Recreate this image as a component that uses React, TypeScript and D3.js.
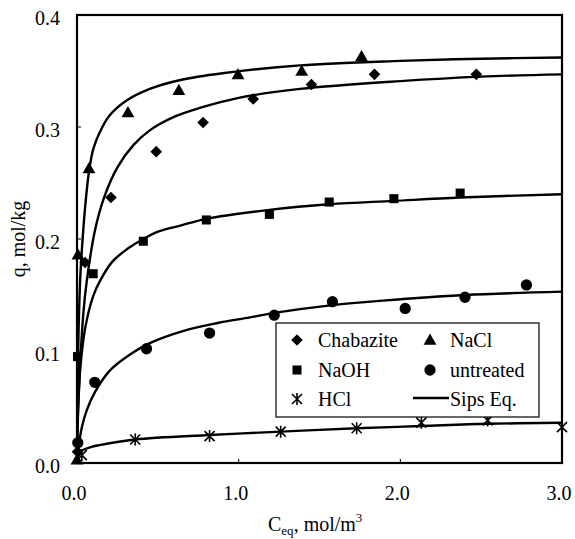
import React from 'react';
import * as d3 from 'd3';

const xTicks = [0, 1, 2, 3];
const yTicks = [0, 0.1, 0.2, 0.3, 0.4];

// Measured points (C_eq, q)
const chabaziteC = [0.003, 0.05, 0.21, 0.49, 0.78, 1.09, 1.45, 1.84, 2.47];
const chabaziteQ = [0.01, 0.179, 0.237, 0.278, 0.304, 0.325, 0.338, 0.347, 0.347];
const naclC = [0.0, 0.006, 0.074, 0.315, 0.63, 0.996, 1.39, 1.76];
const naclQ = [0.002, 0.185, 0.262, 0.312, 0.332, 0.346, 0.349, 0.362];
const naohC = [0.003, 0.1, 0.41, 0.8, 1.19, 1.56, 1.96, 2.37];
const naohQ = [0.095, 0.169, 0.198, 0.217, 0.222, 0.233, 0.236, 0.241];
const untreatedC = [0.005, 0.11, 0.43, 0.82, 1.22, 1.58, 2.03, 2.4, 2.78];
const untreatedQ = [0.018, 0.072, 0.102, 0.116, 0.132, 0.144, 0.138, 0.148, 0.159];
const hclC = [0.03, 0.36, 0.82, 1.26, 1.73, 2.13, 2.54, 3.0];
const hclQ = [0.007, 0.021, 0.024, 0.028, 0.031, 0.036, 0.038, 0.032];

// Sips Eq. fitted curves
const fitNaclC = [0, 0.002, 0.005, 0.01, 0.02, 0.03, 0.05, 0.074, 0.1, 0.14, 0.2, 0.3, 0.45, 0.64, 0.9, 1.38, 2.0, 2.5, 3.0];
const fitNaclQ = [0, 0.044, 0.08, 0.12, 0.165, 0.19, 0.228, 0.26, 0.28, 0.295, 0.31, 0.323, 0.334, 0.342, 0.348, 0.355, 0.359, 0.361, 0.362];
const fitChabC = [0, 0.002, 0.005, 0.01, 0.02, 0.04, 0.06, 0.11, 0.17, 0.25, 0.35, 0.45, 0.6, 0.76, 1.0, 1.38, 2.0, 2.5, 3.0];
const fitChabQ = [0, 0.02, 0.038, 0.058, 0.09, 0.135, 0.162, 0.207, 0.238, 0.264, 0.284, 0.297, 0.309, 0.317, 0.326, 0.334, 0.341, 0.345, 0.347];
const fitNaohC = [0, 0.002, 0.005, 0.01, 0.02, 0.05, 0.1, 0.14, 0.22, 0.31, 0.41, 0.51, 0.64, 0.8, 1.19, 1.56, 1.96, 2.37, 3.0];
const fitNaohQ = [0, 0.025, 0.042, 0.06, 0.084, 0.12, 0.149, 0.162, 0.18, 0.191, 0.2, 0.207, 0.212, 0.218, 0.226, 0.231, 0.234, 0.237, 0.24];
const fitUntrC = [0, 0.002, 0.006, 0.015, 0.03, 0.06, 0.11, 0.2, 0.31, 0.45, 0.66, 0.87, 1.07, 1.22, 1.58, 1.89, 2.4, 3.0];
const fitUntrQ = [0, 0.006, 0.011, 0.02, 0.032, 0.047, 0.063, 0.082, 0.095, 0.107, 0.118, 0.125, 0.13, 0.134, 0.141, 0.145, 0.15, 0.153];
const fitHclC = [0, 0.005, 0.015, 0.03, 0.08, 0.14, 0.36, 0.82, 1.26, 1.73, 2.13, 2.54, 3.0];
const fitHclQ = [0, 0.004, 0.008, 0.011, 0.014, 0.016, 0.021, 0.025, 0.028, 0.031, 0.033, 0.035, 0.036];

const W = 575;
const H = 539;
const L = 77, R = 562, T = 15, B = 463;
const FONT = "'Liberation Serif', 'Times New Roman', Times, serif";
const txt = { fontFamily: FONT, fontSize: 20, fill: '#000' } as React.CSSProperties;

const x = d3.scaleLinear().domain([0, 3]).range([L, R]);
const y = d3.scaleLinear().domain([0, 0.4]).range([B, T]);

const zip = (a: number[], b: number[]) => a.map((v, i) => [v, b[i]] as [number, number]);

const line = d3.line<[number, number]>()
  .x(d => x(d[0]))
  .y(d => y(d[1]))
  .curve(d3.curveCatmullRom.alpha(0.5));

const diamond = 'M0,-5.8L5.8,0L0,5.8L-5.8,0Z';
const triangle = d3.symbol().type(d3.symbolTriangle).size(72)();
const square = d3.symbol().type(d3.symbolSquare).size(82)();
const circle = d3.symbol().type(d3.symbolCircle).size(100)();
const star = 'M-5,-5L5,5M5,-5L-5,5M0,-6L0,6';

function Marker({ cx, cy, kind }: { cx: number; cy: number; kind: string }) {
  if (kind === 'star') {
    return <path d={star} transform={`translate(${cx},${cy})`} stroke="#000" strokeWidth={1.6} fill="none" />;
  }
  const d = kind === 'diamond' ? diamond : kind === 'triangle' ? triangle : kind === 'square' ? square : circle;
  return <path d={d as string} transform={`translate(${cx},${cy})`} fill="#000" />;
}

const series = [
  { c: chabaziteC, q: chabaziteQ, kind: 'diamond' },
  { c: naclC, q: naclQ, kind: 'triangle' },
  { c: naohC, q: naohQ, kind: 'square' },
  { c: untreatedC, q: untreatedQ, kind: 'circle' },
  { c: hclC, q: hclQ, kind: 'star' },
];

const fits = [
  zip(fitNaclC, fitNaclQ),
  zip(fitChabC, fitChabQ),
  zip(fitNaohC, fitNaohQ),
  zip(fitUntrC, fitUntrQ),
  zip(fitHclC, fitHclQ),
];

export default function App() {
  return (
    <svg width={W} height={H} style={{ position: 'absolute', left: 0, top: 0, background: '#fff' }}>
      <defs>
        <clipPath id="plot">
          <rect x={L} y={T - 2} width={R - L} height={B - T + 2} />
        </clipPath>
      </defs>
      <rect x={0} y={0} width={W} height={H} fill="#fff" />
      <g clipPath="url(#plot)">
        {fits.map((f, i) => (
          <path key={i} d={line(f) as string} fill="none" stroke="#000" strokeWidth={2.4} />
        ))}
      </g>
      {series.map((s, i) => s.c.map((c, j) => (
        <Marker key={`${i}-${j}`} cx={x(c)} cy={y(s.q[j])} kind={s.kind} />
      )))}
      <rect x={L} y={T} width={R - L} height={B - T} fill="none" stroke="#000" strokeWidth={2.2} />
      {yTicks.map(t => (
        <g key={`y${t}`}>
          <line x1={L} x2={L + 4} y1={y(t)} y2={y(t)} stroke="#000" strokeWidth={1} />
          <text x={60} y={y(t) + 9.5} textAnchor="end" style={txt}>{t.toFixed(1)}</text>
        </g>
      ))}
      {xTicks.map(t => (
        <g key={`x${t}`}>
          <line x1={x(t)} x2={x(t)} y1={B} y2={B - 4} stroke="#000" strokeWidth={1} />
          <text x={x(t) - 3} y={500} textAnchor="middle" style={txt}>{t.toFixed(1)}</text>
        </g>
      ))}
      <text x={268} y={531} style={txt}>
        C<tspan style={{ fontSize: 13 }} dy={4}>eq</tspan><tspan dy={-4}>, mol/m</tspan><tspan style={{ fontSize: 13 }} dy={-9}>3</tspan>
      </text>
      <text transform={`translate(25,${(T + B) / 2}) rotate(-90)`} textAnchor="middle" style={txt}>q, mol/kg</text>
      <rect x={276} y={323} width={263} height={94} fill="#fff" stroke="#000" strokeWidth={1.2} />
      <Marker cx={297} cy={340} kind="diamond" />
      <text x={318} y={347} style={txt}>Chabazite</text>
      <Marker cx={430} cy={341} kind="triangle" />
      <text x={450} y={347} style={txt}>NaCl</text>
      <Marker cx={297} cy={370} kind="square" />
      <text x={318} y={377} style={txt}>NaOH</text>
      <Marker cx={430} cy={370} kind="circle" />
      <text x={450} y={377} style={txt}>untreated</text>
      <Marker cx={297} cy={399} kind="star" />
      <text x={318} y={406} style={txt}>HCl</text>
      <line x1={413} x2={449} y1={398} y2={398} stroke="#000" strokeWidth={2.4} />
      <text x={450} y={406} style={txt}>Sips Eq.</text>
    </svg>
  );
}
